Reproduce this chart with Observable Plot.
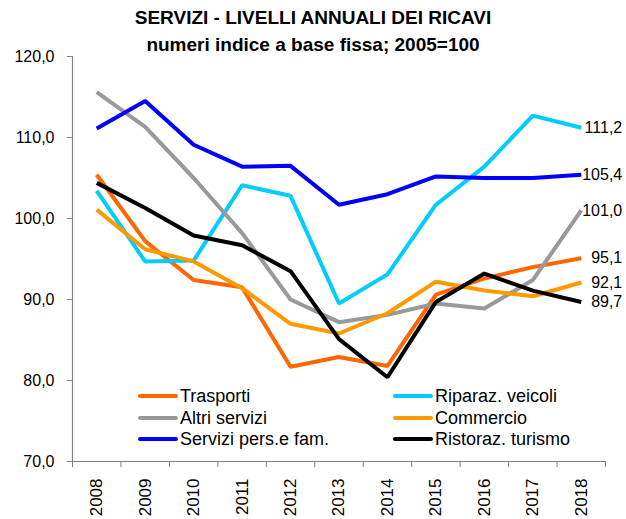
<!DOCTYPE html>
<html>
<head>
<meta charset="utf-8">
<script src="https://cdn.jsdelivr.net/npm/d3@7"></script>
<script src="https://cdn.jsdelivr.net/npm/@observablehq/plot@0.6"></script>
<style>
  body { margin: 0; background: #fff; font-family: "Liberation Sans", Arial, sans-serif; }
  #wrap { position: relative; width: 626px; height: 519px; overflow: hidden; }
  #title { position: absolute; left: 0; top: 4px; width: 626px; text-align: center; font-weight: bold; font-size: 19px; line-height: 27px; color: #000; z-index: 2; }
  #legend { position: absolute; left: 0; top: 0; z-index: 2; }
  .li { position: absolute; font-size: 18px; line-height: 20px; white-space: nowrap; display: flex; align-items: center; }
  .sw { display: inline-block; width: 40px; height: 4px; border-radius: 2px; margin-right: 2px; }
  #chart { position: absolute; left: 0; top: 0; }
</style>
</head>
<body>
<div id="wrap">
  <div id="title">SERVIZI - LIVELLI ANNUALI DEI RICAVI<br>numeri indice a base fissa; 2005=100</div>
  <div id="chart"></div>
  <div id="legend"></div>
</div>
<script>
const years = [2008, 2009, 2010, 2011, 2012, 2013, 2014, 2015, 2016, 2017, 2018];
const seriesNames = ["Trasporti", "Riparaz. veicoli", "Altri servizi", "Commercio", "Servizi pers.e fam.", "Ristoraz. turismo"];
const seriesColors = ["#FF6600", "#00CCFF", "#999999", "#FF9900", "#0000FF", "#000000"];
const trasporti = [105.4, 97.2, 92.4, 91.5, 81.7, 82.9, 81.8, 90.6, 92.6, 94.0, 95.1];
const riparaz   = [103.4, 94.7, 94.8, 104.1, 102.8, 89.5, 93.1, 101.7, 106.4, 112.7, 111.2];
const altri     = [115.6, 111.3, 105.0, 98.2, 90.0, 87.2, 88.1, 89.5, 88.9, 92.4, 101.0];
const commercio = [101.1, 96.2, 94.7, 91.4, 87.0, 85.8, 88.3, 92.2, 91.1, 90.4, 92.1];
const servizi   = [111.1, 114.5, 109.1, 106.4, 106.5, 101.7, 103.0, 105.2, 105.0, 105.0, 105.4];
const ristoraz  = [104.4, 101.3, 97.9, 96.7, 93.5, 85.1, 80.4, 89.7, 93.2, 91.1, 89.7];
const yTicks = [70, 80, 90, 100, 110, 120];

const allValues = [trasporti, riparaz, altri, commercio, servizi, ristoraz];
const data = [];
allValues.forEach((vals, i) => vals.forEach((v, j) => data.push({series: seriesNames[i], year: years[j], value: v})));
const lastPoints = allValues.map((vals, i) => ({series: seriesNames[i], year: years[years.length - 1], value: vals[vals.length - 1]}));
const fmt = v => v.toFixed(1).replace(".", ",");
const bounds = years.map(y => y - 0.5).concat([years[years.length - 1] + 0.5]);

const plot = Plot.plot({
  width: 626,
  height: 519,
  marginTop: 56,
  marginBottom: 58,
  marginLeft: 72,
  marginRight: 21,
  style: {fontFamily: "'Liberation Sans', Arial, sans-serif", background: "transparent"},
  x: {domain: [2007.5, 2018.5]},
  y: {domain: [70, 120]},
  color: {domain: seriesNames, range: seriesColors},
  marks: [
    Plot.ruleY([70], {x1: 2007.5, x2: 2018.5, stroke: "#808080", strokeWidth: 1.2}),
    Plot.ruleX([2007.5], {y1: 70, y2: 120, stroke: "#808080", strokeWidth: 1.2}),
    Plot.axisY({ticks: yTicks, tickFormat: fmt, tickSize: 5, tickPadding: 13, stroke: "#808080", fill: "#000", fontSize: 16, label: null}),
    Plot.axisX({ticks: bounds, tickFormat: () => "", tickSize: 6, stroke: "#808080", label: null}),
    Plot.axisX({ticks: years, tickFormat: d => String(d), tickSize: 0, tickPadding: 17, tickRotate: -90, fill: "#000", fontSize: 17, label: null}),
    Plot.line(data, {x: "year", y: "value", z: "series", stroke: "series", strokeWidth: 4, strokeLinejoin: "miter", strokeLinecap: "butt"}),
    Plot.text(lastPoints, {x: "year", y: "value", text: d => fmt(d.value), dx: 41, textAnchor: "end", fontSize: 16, fill: "#000"})
  ]
});
document.getElementById("chart").appendChild(plot);

// legend overlay
const legendPos = [[138, 396], [393, 396], [138, 418], [393, 418], [138, 439], [393, 439]];
const leg = document.getElementById("legend");
seriesNames.forEach((name, i) => {
  const el = document.createElement("div");
  el.className = "li";
  el.style.left = legendPos[i][0] + "px";
  el.style.top = (legendPos[i][1] - 10) + "px";
  el.innerHTML = `<span class="sw" style="background:${seriesColors[i]}"></span><span>${name}</span>`;
  leg.appendChild(el);
});
</script>
</body>
</html>
